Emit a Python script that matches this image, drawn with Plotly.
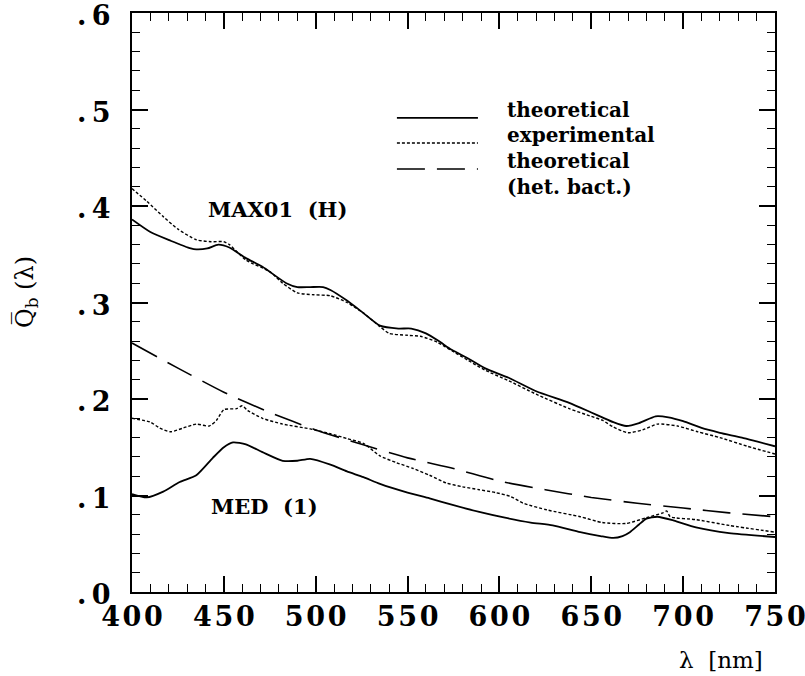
import plotly.graph_objects as go

# ---- data ----
max_th_x = [400, 410, 421, 432, 435, 441, 447, 453, 462, 471, 484, 490, 497, 504, 508, 517, 526, 535,
            545, 552, 560, 567, 574, 583, 592, 605, 620, 638, 650, 656, 662, 669, 676, 685, 692, 700,
            710, 720, 732, 740, 750]
max_th_y = [0.386, 0.373, 0.364, 0.356, 0.355, 0.356, 0.360, 0.357, 0.346, 0.337, 0.320, 0.316, 0.316,
            0.316, 0.313, 0.302, 0.289, 0.276, 0.273, 0.273, 0.268, 0.260, 0.251, 0.242, 0.232, 0.222,
            0.208, 0.196, 0.186, 0.181, 0.176, 0.172, 0.175, 0.182, 0.181, 0.177, 0.170, 0.165, 0.160,
            0.156, 0.151]

max_ex_x = [400, 408, 417, 425, 435, 443, 450, 453, 462, 475, 482, 490, 499, 508, 517, 526, 535, 540,
            550, 557, 566, 575, 583, 592, 605, 620, 638, 650, 656, 662, 670, 678, 686, 697, 708, 720,
            735, 750]
max_ex_y = [0.418, 0.405, 0.389, 0.376, 0.365, 0.363, 0.363, 0.360, 0.344, 0.332, 0.320, 0.310, 0.308,
            0.307, 0.300, 0.289, 0.275, 0.268, 0.266, 0.265, 0.259, 0.249, 0.240, 0.230, 0.219, 0.205,
            0.190, 0.182, 0.178, 0.171, 0.165, 0.168, 0.174, 0.172, 0.166, 0.160, 0.151, 0.143]

med_th_x = [400, 408, 417, 426, 435, 444, 450, 455, 462, 471, 482, 490, 497, 508, 517, 526, 535, 550,
            562, 575, 589, 603, 617, 629, 644, 655, 662, 667, 671, 676, 680, 686, 695, 707, 725, 750]
med_th_y = [0.1015, 0.098, 0.104, 0.114, 0.121, 0.139, 0.150, 0.155, 0.153, 0.145, 0.136, 0.136, 0.138,
            0.132, 0.125, 0.119, 0.112, 0.103, 0.097, 0.090, 0.083, 0.077, 0.072, 0.069, 0.062, 0.058,
            0.056, 0.058, 0.062, 0.070, 0.076, 0.078, 0.074, 0.067, 0.061, 0.057]

med_ex_x = [400, 410, 415, 421, 428, 435, 442, 446, 450, 457, 460, 463, 471, 482, 497, 508, 517, 526,
            535, 544, 553, 562, 571, 580, 589, 598, 606, 613, 626, 644, 656, 669, 680, 689, 691, 693,
            707, 725, 750]
med_ex_y = [0.180, 0.176, 0.170, 0.166, 0.170, 0.174, 0.172, 0.178, 0.189, 0.190, 0.193, 0.188, 0.180,
            0.174, 0.169, 0.164, 0.159, 0.154, 0.141, 0.134, 0.128, 0.121, 0.113, 0.109, 0.106, 0.103,
            0.099, 0.092, 0.085, 0.078, 0.072, 0.071, 0.077, 0.082, 0.084, 0.078, 0.075, 0.069, 0.062]

het_x = [400, 425, 450, 475, 500, 525, 550, 575, 600, 625, 650, 675, 700, 725, 750]
het_y = [0.258, 0.232, 0.207, 0.186, 0.168, 0.153, 0.139, 0.128, 0.115, 0.106, 0.098, 0.092, 0.087,
         0.082, 0.078]

x_ticks = [400, 450, 500, 550, 600, 650, 700, 750]
y_ticks = [0.0, 0.1, 0.2, 0.3, 0.4, 0.5, 0.6]
x_ticktext = ["\u200a".join(str(v)) for v in x_ticks]
y_ticktext = [".\u2009" + str(int(round(v * 10))) for v in y_ticks]

legend_lines = ["theoretical", "experimental", "theoretical", "(het. bact.)"]
curve_labels = ["MAX01  (H)", "MED  (1)"]

SERIF = "DejaVu Serif"
solid = dict(color="black", width=1.8)
dotted = dict(color="black", width=1.4, dash="3px,2px")
dashed = dict(color="black", width=1.6, dash="28px,12px")

fig = go.Figure()
fig.add_trace(go.Scatter(x=max_th_x, y=max_th_y, mode="lines", line=dict(**solid, shape="spline", smoothing=0.6)))
fig.add_trace(go.Scatter(x=max_ex_x, y=max_ex_y, mode="lines", line=dict(**dotted, shape="spline", smoothing=0.6)))
fig.add_trace(go.Scatter(x=med_th_x, y=med_th_y, mode="lines", line=dict(**solid, shape="spline", smoothing=0.6)))
fig.add_trace(go.Scatter(x=med_ex_x, y=med_ex_y, mode="lines", line=dict(**dotted, shape="spline", smoothing=0.6)))
fig.add_trace(go.Scatter(x=het_x, y=het_y, mode="lines", line=dict(**dashed, shape="spline", smoothing=0.6)))

axis_common = dict(
    showgrid=False, zeroline=False, showline=True, linecolor="black", linewidth=2,
    mirror="ticks", ticks="inside", ticklen=16, tickwidth=1.6, tickcolor="black",
    automargin=False, ticklabeloverflow="allow",
    tickfont=dict(family=SERIF, size=27, color="black", weight="bold"),
)
fig.update_xaxes(range=[400, 750], tickvals=x_ticks, ticktext=x_ticktext,
                 minor=dict(dtick=10, ticks="inside", ticklen=8, tickwidth=1.4, tickcolor="black"),
                 **axis_common)
fig.update_yaxes(range=[0, 0.6], tickvals=y_ticks, ticktext=y_ticktext, ticklabelstandoff=14,
                 ticklabelshift=3,
                 minor=dict(dtick=0.02, ticks="inside", ticklen=8, tickwidth=1.4, tickcolor="black"),
                 **axis_common)

# manual legend (paper coordinates)
leg_x0, leg_x1, leg_tx = 0.412, 0.538, 0.58
leg_rows = [0.8187, 0.7755, 0.7306]
text_rows = [0.8187, 0.7755, 0.7306, 0.6856]
for yy, ln in zip(leg_rows, [solid, dotted, dashed]):
    fig.add_shape(type="line", xref="paper", yref="paper", x0=leg_x0, x1=leg_x1, y0=yy, y1=yy, line=ln)
for yy, txt in zip(text_rows, legend_lines):
    fig.add_annotation(xref="paper", yref="paper", x=leg_tx, y=yy - 0.010, text=txt, showarrow=False,
                       xanchor="left", yanchor="bottom", align="left",
                       font=dict(family=SERIF, size=20, color="black", weight="bold"))

fig.add_annotation(x=479, y=0.396, text=curve_labels[0], showarrow=False,
                   font=dict(family=SERIF, size=21, color="black", weight="bold"))
fig.add_annotation(x=472, y=0.089, text=curve_labels[1], showarrow=False,
                   font=dict(family=SERIF, size=21, color="black", weight="bold"))

# axis titles
fig.add_annotation(xref="paper", yref="paper", x=0.984, y=-0.117, text="λ  [nm]", showarrow=False,
                   xanchor="right", yanchor="middle", font=dict(family=SERIF, size=23, color="black"))
fig.add_annotation(xref="paper", yref="paper", x=-0.165, y=0.518, text="Q\u0305<sub>b</sub> (λ)",
                   showarrow=False, textangle=-90, xanchor="center", yanchor="middle",
                   font=dict(family=SERIF, size=24, color="black"))

fig.update_layout(width=805, height=676, margin=dict(l=132, r=30, t=13, b=84),
                  paper_bgcolor="white", plot_bgcolor="white", showlegend=False)

fig.write_html("out.html")
